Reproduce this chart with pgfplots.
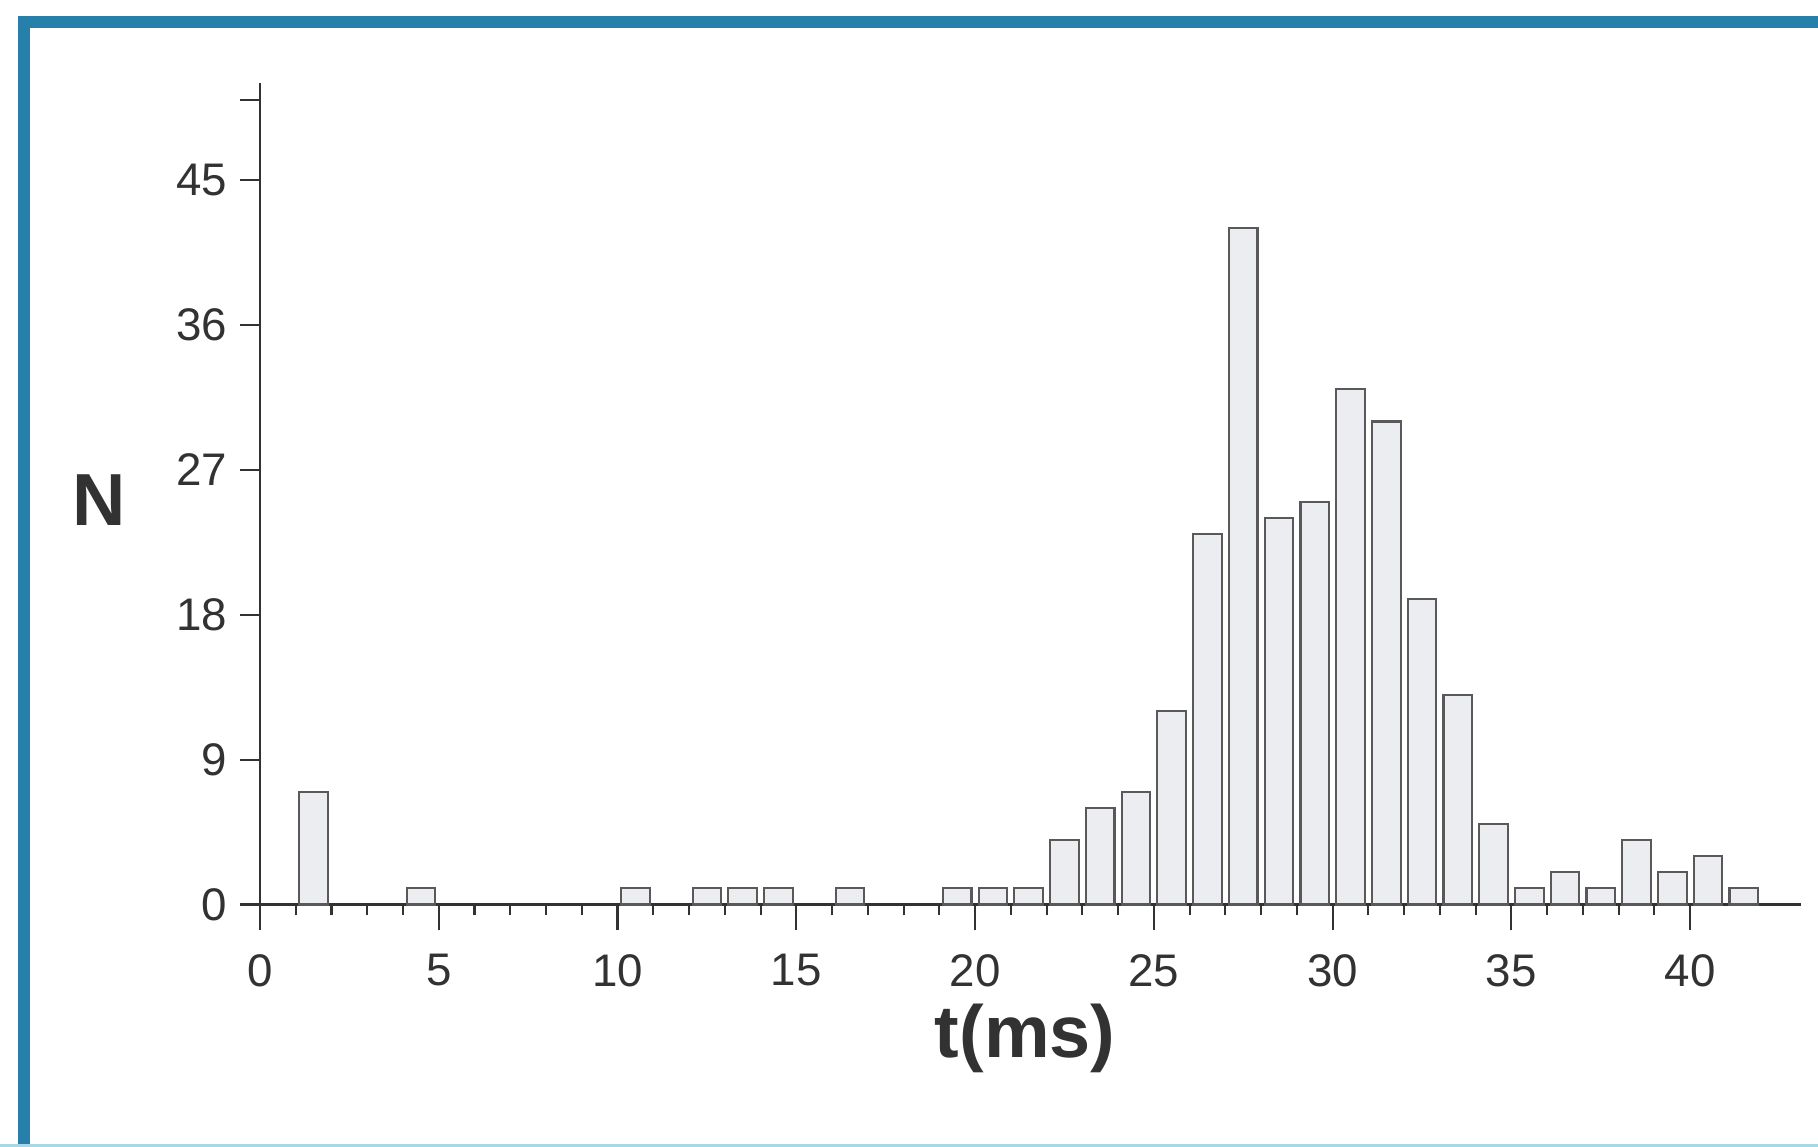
\documentclass[border=0pt]{standalone}
\usepackage{fontspec}
\setmainfont{Liberation Sans}
\usepackage{pgfplots}
\pgfplotsset{compat=1.18}
\definecolor{framebl}{RGB}{38,128,170}
\definecolor{framelt}{RGB}{170,215,232}
\definecolor{barfill}{RGB}{236,237,241}
\definecolor{ink}{RGB}{50,50,50}
\begin{document}
\begin{tikzpicture}
\path[use as bounding box] (0,0) rectangle (181.8mm,114.7mm);
\fill[white] (0,0) rectangle (181.8mm,114.7mm);
\draw[framebl, line width=1.2mm] (2.4mm,-1mm) -- (2.4mm,112.5mm) -- (183mm,112.5mm);
\draw[framelt, line width=0.35mm] (0,0.15mm) -- (181.8mm,0.15mm);
\begin{axis}[
  at={(26.0mm,24.25mm)}, anchor=south west,
  scale only axis, width=154.1mm, height=82.1mm,
  xmin=0, xmax=43.1, ymin=0, ymax=51,
  axis lines=left,
  axis line style={-, ink, line width=0.6pt},
  tick align=outside,
  xtick={0,5,...,40}, minor x tick num=4,
  ytick={0,9,...,45}, extra y ticks={50}, extra y tick labels={},
  major tick length=2.6mm, minor tick length=1.1mm,
  ytick style={/pgfplots/major tick length=2.0mm},
  tick style={ink, line width=0.6pt},
  /pgf/number format/assume math mode=true,
  ticklabel style={font=\fontsize{13}{15}\selectfont, text=ink},
  xticklabel style={yshift=-1.15mm},
  yticklabel style={inner xsep=0.6mm},
  xlabel={\fontsize{21}{25}\selectfont\bfseries t(ms)},
  xlabel style={at={(axis description cs:0.4965,0)}, anchor=center, yshift=-13.35mm, text=ink},
  ylabel={\fontsize{21}{25}\selectfont\bfseries N},
  ylabel style={rotate=-90, at={(axis description cs:0,0.4926)}, anchor=center, xshift=-16.1mm, text=ink},
  clip=false,
]
\addplot[ybar, bar width=0.8, fill=barfill, draw=black!65, line width=0.6pt] coordinates {
(1.5,7) (4.5,1) (10.5,1) (12.5,1) (13.5,1) (14.5,1) (16.5,1)
(19.5,1) (20.5,1) (21.5,1) (22.5,4) (23.5,6) (24.5,7) (25.5,12)
(26.5,23) (27.5,42) (28.5,24) (29.5,25) (30.5,32) (31.5,30)
(32.5,19) (33.5,13) (34.5,5) (35.5,1) (36.5,2) (37.5,1)
(38.5,4) (39.5,2) (40.5,3) (41.5,1)
};
\end{axis}
\end{tikzpicture}
\end{document}
